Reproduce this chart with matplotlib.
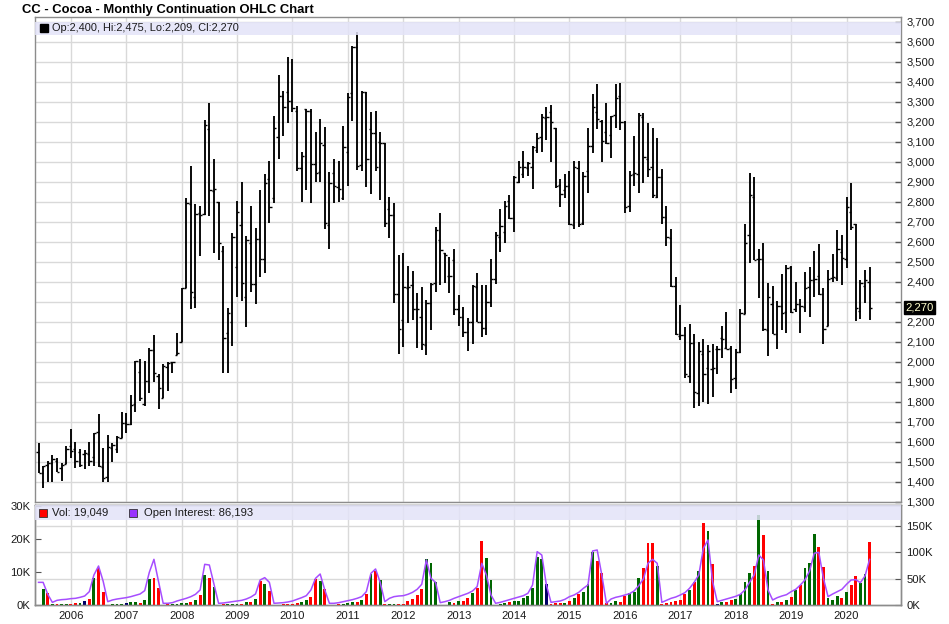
import matplotlib
matplotlib.use('Agg')
import matplotlib.pyplot as plt
import numpy as np

plt.rcParams['font.family'] = ['Liberation Sans', 'DejaVu Sans']

# ---------------- data (monthly, Jun 2005 .. Jun 2020) ----------------
years = list(range(2006, 2021))
first_jan_index = 7          # month index of Jan 2006 (index 0 = Jun 2005)

opens = [1547, 1442, 1483, 1492, 1503, 1467, 1487, 1578, 1562, 1550, 1538, 1538, 1525, 1650, 1475, 1425,
         1567, 1563, 1617, 1692, 1688, 1787, 1947, 1787, 1905, 2058, 1928, 1817, 1975, 1997, 2033, 2100,
         2367, 2787, 2325, 2745, 2738, 3162, 2855, 2797, 2555, 2142, 2200, 2475, 2683, 2325, 2595, 2387,
         2612, 2512, 2912, 2817, 3122, 3330, 3350, 3305, 3253, 2967, 3262, 3253, 2987, 2947, 3083, 2683,
         2945, 2875, 2817, 3050, 3345, 3575, 2983, 3347, 3162, 3142, 3100, 3092, 2762, 2735, 2340, 2208,
         2367, 2383, 2262, 2225, 2083, 2292, 2392, 2608, 2542, 2428, 2508, 2262, 2222, 2150, 2200, 2375,
         2197, 2167, 2297, 2412, 2622, 2647, 2805, 2720, 2900, 2937, 2967, 2972, 3058, 3125, 3217, 3247,
         3167, 2883, 2858, 2880, 2683, 2967, 2692, 2953, 3078, 3247, 3205, 3147, 3133, 3233, 3328, 3200,
         2778, 2938, 2938, 3225, 3012, 2975, 2825, 2922, 2725, 2620, 2378, 2130, 2133, 1928, 2095, 1842,
         2037, 1967, 1963, 2062, 2117, 2070, 2070, 1917, 2050, 2238, 2633, 2822, 2512, 2512, 2158, 2287,
         2137, 2280, 2247, 2475, 2262, 2287, 2275, 2372, 2408, 2430, 2337, 2180, 2417, 2420, 2547, 2512,
         2750, 2687, 2253, 2378, 2400]
highs = [1595, 1478, 1503, 1533, 1520, 1492, 1578, 1663, 1600, 1562, 1558, 1600, 1645, 1737, 1570, 1633,
         1595, 1630, 1747, 1742, 1833, 2003, 2013, 2003, 2067, 2133, 1937, 1988, 1997, 2000, 2142, 2367,
         2817, 2978, 2787, 2780, 3208, 3295, 3013, 2797, 2578, 2270, 2645, 2803, 2897, 2628, 2778, 2667,
         2858, 2937, 3003, 3228, 3433, 3353, 3522, 3513, 3278, 3047, 3263, 3262, 3147, 3213, 3172, 2947,
         3013, 3005, 3178, 3345, 3578, 3650, 3353, 3350, 3250, 3253, 3147, 3092, 2822, 2792, 2533, 2542,
         2478, 2453, 2345, 2375, 2308, 2392, 2675, 2745, 2542, 2525, 2562, 2333, 2275, 2217, 2383, 2445,
         2383, 2383, 2513, 2647, 2763, 2803, 2833, 2928, 3003, 3053, 2997, 3078, 3145, 3238, 3275, 3283,
         3167, 2913, 2938, 2953, 3003, 3003, 2950, 3167, 3338, 3388, 3208, 3295, 3230, 3388, 3395, 3203,
         2953, 3128, 3242, 3242, 3195, 3167, 3117, 2962, 2778, 2663, 2422, 2283, 2175, 2188, 2137, 2097,
         2112, 2083, 2088, 2078, 2178, 2247, 2078, 2062, 2263, 2688, 2942, 2925, 2562, 2592, 2392, 2378,
         2303, 2437, 2483, 2478, 2397, 2312, 2447, 2472, 2555, 2588, 2370, 2458, 2538, 2658, 2633, 2822,
         2892, 2688, 2408, 2458, 2475]
lows = [1442, 1370, 1397, 1397, 1447, 1405, 1487, 1517, 1467, 1475, 1462, 1480, 1480, 1475, 1397, 1397,
        1500, 1542, 1617, 1642, 1683, 1750, 1805, 1780, 1845, 1897, 1762, 1817, 1855, 1942, 2033, 2100,
        2367, 2262, 2270, 2528, 2733, 2728, 2542, 2508, 1945, 1945, 2080, 2325, 2303, 2172, 2350, 2287,
        2425, 2442, 2695, 2795, 3013, 3130, 3195, 3250, 2955, 2800, 2858, 2792, 2900, 2900, 2662, 2562,
        2795, 2800, 2808, 2880, 3203, 2958, 2955, 2875, 2840, 2955, 2808, 2675, 2620, 2292, 2037, 2075,
        2192, 2208, 2070, 2058, 2033, 2158, 2350, 2383, 2392, 2345, 2233, 2178, 2125, 2055, 2088, 2197,
        2125, 2133, 2275, 2387, 2550, 2592, 2712, 2650, 2892, 2917, 2928, 2862, 3042, 3050, 3108, 2997,
        2870, 2775, 2817, 2683, 2663, 2675, 2683, 2845, 3045, 3163, 2997, 3088, 3020, 3167, 3158, 2745,
        2750, 2880, 2842, 2895, 2925, 2817, 2820, 2687, 2578, 2375, 2133, 2108, 1917, 1895, 1767, 1780,
        1800, 1787, 1825, 1937, 2017, 2063, 1842, 1862, 2042, 2238, 2495, 2508, 2317, 2155, 2030, 2137,
        2062, 2158, 2142, 2245, 2250, 2145, 2250, 2225, 2322, 2333, 2087, 2180, 2397, 2405, 2383, 2470,
        2658, 2205, 2213, 2292, 2209]
closes = [1445, 1478, 1492, 1512, 1447, 1483, 1562, 1553, 1503, 1483, 1542, 1503, 1642, 1480, 1417, 1575,
          1583, 1625, 1692, 1688, 1783, 2003, 1817, 1905, 2058, 1942, 1867, 1978, 1995, 2000, 2045, 2367,
          2792, 2350, 2740, 2735, 3183, 2858, 2862, 2592, 2120, 2242, 2622, 2747, 2392, 2608, 2387, 2612,
          2512, 2892, 2772, 3167, 3330, 3272, 3305, 3267, 2967, 3028, 3253, 2987, 2942, 3092, 2695, 2892,
          2880, 2862, 3075, 3325, 3575, 2980, 3350, 3013, 3142, 2972, 3092, 2695, 2733, 2340, 2162, 2375,
          2375, 2262, 2262, 2088, 2292, 2390, 2658, 2558, 2532, 2428, 2262, 2225, 2147, 2200, 2378, 2197,
          2167, 2297, 2412, 2633, 2680, 2778, 2720, 2925, 2975, 2975, 2992, 3072, 3117, 3222, 3222, 3197,
          2880, 2837, 2880, 2687, 2975, 2687, 2928, 3078, 3272, 3212, 3103, 3092, 3228, 3317, 3200, 2775,
          2933, 2945, 3233, 3022, 2962, 2833, 2922, 2725, 2625, 2378, 2138, 2133, 1937, 2095, 1847, 2055,
          1938, 2055, 1967, 2062, 2113, 2063, 1912, 2050, 2242, 2595, 2833, 2508, 2512, 2162, 2322, 2137,
          2280, 2242, 2467, 2250, 2287, 2278, 2367, 2408, 2412, 2338, 2162, 2412, 2422, 2562, 2517, 2775,
          2675, 2267, 2392, 2408, 2270]

# monthly volume (thousands, left axis) and direction of the month (+1 up, -1 down, 0 unchanged)
volume_k = [0.0, 4.7, 3.5, 0.3, 0.3, 0.3, 0.3, 0.3, 0.5, 0.5, 1.2, 1.8, 8.3, 11.3, 3.9, 0.1,
            0.2, 0.2, 0.2, 0.5, 0.8, 0.8, 0.5, 1.4, 7.9, 8.1, 5.1, 0.1, 0.2, 0.4, 0.4, 0.5,
            0.7, 0.8, 1.4, 3.0, 9.1, 8.1, 5.4, 0.1, 0.3, 0.2, 0.2, 0.3, 0.3, 0.9, 0.9, 1.8,
            7.3, 6.4, 4.2, 0.1, 0.1, 0.2, 0.2, 0.4, 0.7, 0.8, 1.5, 2.3, 7.9, 7.3, 4.9, 0.1,
            0.1, 0.3, 0.3, 0.7, 0.8, 0.8, 1.5, 3.4, 9.3, 10.3, 7.6, 0.3, 0.2, 0.2, 0.3, 0.3,
            1.2, 1.7, 3.0, 4.7, 14.0, 12.6, 6.9, 0.1, 0.1, 0.8, 0.5, 1.2, 1.2, 2.0, 3.5, 5.1,
            19.4, 14.3, 7.6, 0.1, 0.2, 0.7, 1.0, 1.2, 1.2, 2.0, 2.7, 5.1, 14.6, 13.9, 6.4, 0.2,
            0.5, 0.5, 0.5, 1.2, 2.2, 3.2, 4.0, 6.3, 16.2, 13.3, 9.8, 0.7, 0.7, 1.2, 1.0, 2.8,
            3.6, 4.0, 8.3, 11.3, 18.7, 18.7, 11.8, 0.3, 0.7, 0.8, 1.2, 1.5, 3.4, 4.6, 6.9, 10.3,
            24.7, 22.4, 12.3, 0.3, 0.9, 0.9, 1.4, 1.8, 3.3, 6.9, 9.6, 11.8, 27.3, 21.2, 10.3, 0.3,
            0.9, 0.9, 1.5, 2.4, 4.4, 6.1, 11.1, 12.6, 21.5, 17.6, 11.5, 2.0, 1.5, 2.7, 2.0, 4.0,
            6.1, 8.8, 6.8, 9.4, 19.049]
vol_dir = [1, 1, -1, 1, -1, 1, 1, -1, -1, 1, 0, -1, 1, -1, -1, 1,
           1, 1, 1, 0, 1, 1, -1, 1, 1, -1, -1, 1, -1, 1, 1, 1,
           1, -1, 1, -1, 1, -1, 1, -1, -1, 1, 1, 1, -1, 1, -1, 1,
           -1, 1, -1, 1, 1, -1, -1, -1, -1, 1, 1, -1, -1, 1, -1, 1,
           -1, -1, 1, 1, 1, -1, 1, -1, 1, -1, 1, -1, 1, 1, -1, -1,
           -1, -1, -1, -1, 1, 1, 1, -1, 1, 1, -1, 1, -1, -1, 1, -1,
           -1, 1, 1, -1, 1, 1, -1, 1, 1, 1, 1, 1, 1, 1, 0, -1,
           -1, -1, 1, -1, 1, -1, 1, 1, 1, -1, -1, -1, 1, 1, -1, -1,
           1, 1, 1, -1, -1, -1, 1, -1, -1, -1, -1, -1, -1, 1, -1, 1,
           -1, 1, -1, 0, 1, -1, -1, 1, 1, 1, 1, -1, 1, -1, 1, -1,
           1, -1, 1, -1, 1, -1, 1, 1, 1, -1, -1, 1, 1, 1, -1, 1,
           -1, -1, 1, 1, -1]
# open interest (thousands, right axis)
open_interest_k = [42.8, 42.8, 20.2, 5.0, 8.8, 10.1, 10.7, 12.0, 12.6, 14.5, 17.0, 25.2, 56.7, 73.7, 45.0, 6.3,
                   9.5, 11.3, 12.6, 13.9, 15.8, 18.3, 20.8, 27.1, 61.8, 86.3, 44.1, 3.2, 3.2, 4.4, 7.6, 10.1,
                   12.6, 15.8, 20.2, 28.4, 76.9, 75.6, 39.1, 3.2, 3.8, 5.0, 6.3, 7.6, 8.8, 11.3, 15.1, 20.8,
                   47.3, 51.7, 42.8, 3.2, 3.8, 4.4, 5.7, 7.6, 10.7, 13.9, 17.6, 28.4, 50.4, 58.6, 28.4, 3.2,
                   3.2, 4.4, 6.3, 8.2, 10.1, 12.6, 15.8, 25.2, 59.9, 68.1, 42.8, 6.3, 12.6, 15.8, 17.0, 17.6,
                   20.2, 23.9, 29.6, 39.1, 85.1, 50.4, 42.8, 4.4, 6.3, 8.8, 12.6, 15.8, 18.9, 22.1, 26.5, 34.7,
                   78.8, 56.7, 18.9, 3.2, 5.0, 7.6, 10.1, 12.6, 15.1, 17.6, 22.1, 37.8, 100.8, 94.5, 37.8, 5.0,
                   6.3, 7.6, 10.7, 15.8, 18.9, 23.9, 31.5, 37.8, 102.1, 104.0, 56.7, 3.2, 11.3, 14.5, 16.4, 18.9,
                   21.4, 26.5, 36.5, 49.1, 78.8, 86.3, 78.8, 5.0, 8.8, 12.6, 15.1, 18.9, 23.3, 31.5, 42.8, 56.7,
                   107.1, 122.9, 44.1, 6.3, 8.8, 11.3, 13.9, 16.4, 20.2, 28.4, 42.8, 56.7, 94.5, 85.1, 28.4, 9.5,
                   13.9, 17.0, 19.5, 25.2, 29.6, 37.8, 47.3, 64.3, 97.7, 99.6, 50.4, 15.8, 20.8, 25.2, 29.6, 39.1,
                   47.3, 47.9, 42.2, 54.8, 86.193]

price_ticks = list(range(1300, 3701, 100))
vol_ticks = [0, 10, 20, 30]
oi_ticks = [0, 50, 100, 150]

# ---------------- layout helpers ----------------
W, H = 949, 624
def fx(px):
    return px / W
def fy(py):
    return 1 - py / H

GRID = '#d9d9d9'
FRAME = '#8c8c8c'
BAND = '#e3e3f8'
TXT = '#1a1a1a'

fig = plt.figure(figsize=(W / 100, H / 100), dpi=100)
fig.patch.set_facecolor('white')

x = np.arange(len(opens))
year_pos = [first_jan_index + 12 * k for k in range(len(years))]
XLIM = (-0.76, 186.8)

# ---------------- price panel ----------------
ax_p = fig.add_axes([fx(35), fy(502), fx(901) - fx(35), fy(17) - fy(502)])
ax_p.set_xlim(*XLIM)
ax_p.set_ylim(1298.5, 3723.5)
for yv in price_ticks:
    ax_p.axhline(yv, color=GRID, lw=1, zorder=0)
for xv in year_pos:
    ax_p.axvline(xv, color=GRID, lw=1, zorder=0)

ax_p.vlines(x, lows, highs, color='black', lw=1.35, zorder=3)
ax_p.hlines(opens, x - 0.5, x, color='black', lw=1.0, zorder=3)
ax_p.hlines(closes, x, x + 0.5, color='black', lw=1.0, zorder=3)

ax_p.set_xticks([])
ax_p.yaxis.tick_right()
ax_p.set_yticks(price_ticks)
last_close = closes[-1]
# the label nearest to the last-price flag is hidden behind it, as in the source
price_labels = ['' if abs(v - last_close) < 50 else f'{v:,}' for v in price_ticks]
ax_p.set_yticklabels(price_labels)
ax_p.tick_params(axis='y', direction='in', length=4, width=1, color='#555555',
                 labelsize=8.1, labelcolor=TXT, pad=4)
for s in ax_p.spines.values():
    s.set_color(FRAME)
    s.set_linewidth(1)

# legend band (drawn over the data)
ax_p.axhspan(3633.5, 3700, color=BAND, alpha=0.85, zorder=5, lw=0)
ax_p.plot([1.2], [3667], marker='s', ms=5.5, color='black', zorder=6, clip_on=False)
ax_p.text(2.9, 3667,
          f'Op:{opens[-1]:,}, Hi:{highs[-1]:,}, Lo:{lows[-1]:,}, Cl:{closes[-1]:,}',
          fontsize=7.9, color=TXT, va='center', ha='left', zorder=6)

# last price flag
ax_p.text(1.005, last_close, f'{last_close:,}', transform=ax_p.get_yaxis_transform(),
          fontsize=8.1, color='#ffffcc', va='center', ha='left', zorder=7,
          bbox=dict(boxstyle='square,pad=0.12', fc='black', ec='black'), clip_on=False)

# ---------------- volume panel ----------------
ax_v = fig.add_axes([fx(35), fy(605), fx(901) - fx(35), fy(505) - fy(605)])
ax_o = ax_v.twinx()
ax_v.set_xlim(*XLIM)
ax_v.set_ylim(0, 30.3)
ax_o.set_ylim(0, 189)

for yv in oi_ticks[1:]:
    ax_o.axhline(yv, color=GRID, lw=1, zorder=0)
for xv in year_pos:
    ax_v.axvline(xv, color=GRID, lw=1, zorder=0)

colors = {1: '#006600', -1: '#ff0000', 0: '#000066'}
ax_o.patch.set_visible(False)
ax_o.bar(x, np.array(volume_k) * (189 / 30.3), width=0.62,
         color=[colors[d] for d in vol_dir], zorder=2)
ax_o.plot(x, open_interest_k, color='#a64dff', lw=1.1, zorder=3)

ax_v.set_yticks(vol_ticks)
ax_v.set_yticklabels([f'{v}K' for v in vol_ticks])
ax_o.set_yticks(oi_ticks)
ax_o.set_yticklabels([f'{v}K' for v in oi_ticks])
ax_v.tick_params(axis='y', direction='in', length=4, color='#555555', labelsize=8.1,
                 labelcolor=TXT, pad=3)
ax_o.tick_params(axis='y', direction='in', length=4, color='#555555', labelsize=8.1,
                 labelcolor=TXT, pad=4)
ax_v.set_xticks(year_pos)
ax_v.set_xticklabels([str(y) for y in years])
ax_v.tick_params(axis='x', length=0, labelsize=8.1, labelcolor=TXT, pad=4)
for axx in (ax_v, ax_o):
    for s in axx.spines.values():
        s.set_color(FRAME)
        s.set_linewidth(1)

# volume legend band
ax_o.axhspan(189 - 15 / 100 * 189, 189, color=BAND, alpha=0.85, zorder=5, lw=0)
ly = 189 - 7.5 / 100 * 189
ax_o.plot([1.0], [ly], marker='s', ms=6, color='#ff0000', mec='#333333', mew=0.6,
          zorder=6, clip_on=False)
ax_o.text(2.9, ly, f'Vol: {volume_k[-1] * 1000:,.0f}', fontsize=8.1, color=TXT,
          va='center', ha='left', zorder=6)
ax_o.plot([20.5], [ly], marker='s', ms=6, color='#9933ff', mec='#333333', mew=0.6,
          zorder=6, clip_on=False)
ax_o.text(22.8, ly, f'Open Interest: {open_interest_k[-1] * 1000:,.0f}', fontsize=8.1,
          color=TXT, va='center', ha='left', zorder=6)

# ---------------- title ----------------
fig.text(fx(22), fy(10), 'CC - Cocoa - Monthly Continuation OHLC Chart',
         fontsize=9.4, fontweight='bold', color='black', va='center', ha='left')

fig.savefig('out.png', dpi=100, facecolor='white')
